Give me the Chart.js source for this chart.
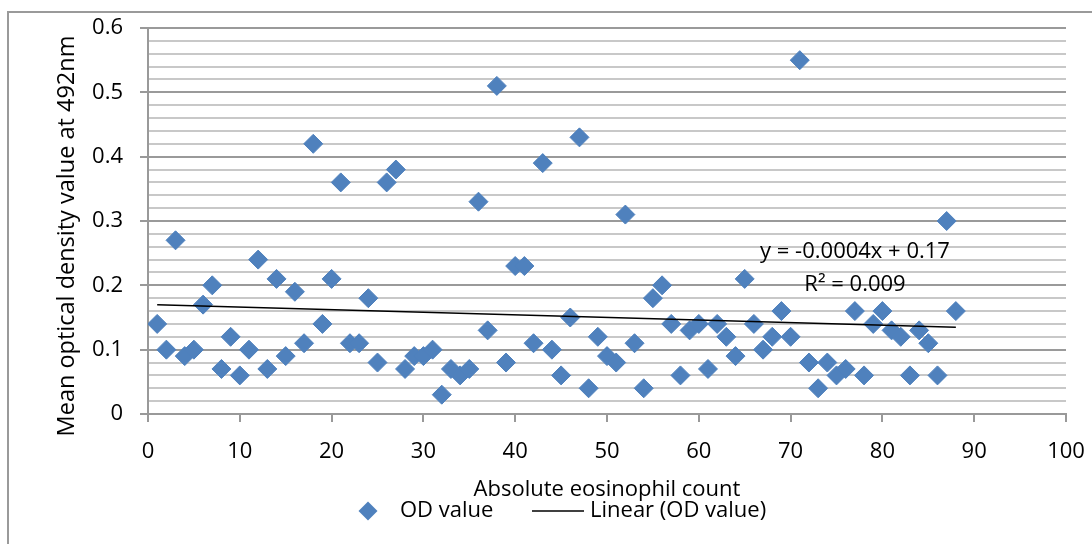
<!DOCTYPE html>
<html>
<head>
<meta charset="utf-8">
<script src="https://cdn.jsdelivr.net/npm/chart.js@4/dist/chart.umd.min.js"></script>
<style>
  html, body { margin: 0; padding: 0; background: #fff; overflow: hidden; }
  #marco { position: absolute; left: 7px; top: 11px; width: 1200px; height: 700px; border: 2px solid #9a9a9a; }
  #grafico { position: absolute; left: 0; top: 0; }
</style>
</head>
<body>
<div id="marco"></div>
<canvas id="grafico" width="1092" height="544"></canvas>
<script>
// Datos
const recuentoEosinofilos = [
  1, 2, 3, 4, 5, 6, 7, 8, 9, 10,
  11, 12, 13, 14, 15, 16, 17, 18, 19, 20,
  21, 22, 23, 24, 25, 26, 27, 28, 29, 30,
  31, 32, 33, 34, 35, 36, 37, 38, 39, 40,
  41, 42, 43, 44, 45, 46, 47, 48, 49, 50,
  51, 52, 53, 54, 55, 56, 57, 58, 59, 60,
  61, 62, 63, 64, 65, 66, 67, 68, 69, 70,
  71, 72, 73, 74, 75, 76, 77, 78, 79, 80,
  81, 82, 83, 84, 85, 86, 87, 88
];
const valoresOD = [
  0.14, 0.10, 0.27, 0.09, 0.10, 0.17, 0.20, 0.07, 0.12, 0.06,
  0.10, 0.24, 0.07, 0.21, 0.09, 0.19, 0.11, 0.42, 0.14, 0.21,
  0.36, 0.11, 0.11, 0.18, 0.08, 0.36, 0.38, 0.07, 0.09, 0.09,
  0.10, 0.03, 0.07, 0.06, 0.07, 0.33, 0.13, 0.51, 0.08, 0.23,
  0.23, 0.11, 0.39, 0.10, 0.06, 0.15, 0.43, 0.04, 0.12, 0.09,
  0.08, 0.31, 0.11, 0.04, 0.18, 0.20, 0.14, 0.06, 0.13, 0.14,
  0.07, 0.14, 0.12, 0.09, 0.21, 0.14, 0.10, 0.12, 0.16, 0.12,
  0.55, 0.08, 0.04, 0.08, 0.06, 0.07, 0.16, 0.06, 0.14, 0.16,
  0.13, 0.12, 0.06, 0.13, 0.11, 0.06, 0.30, 0.16
];
const ticksX = ['0', '10', '20', '30', '40', '50', '60', '70', '80', '90', '100'];
const ticksY = ['0', '0.1', '0.2', '0.3', '0.4', '0.5', '0.6'];
const tituloX = 'Absolute eosinophil count';
const tituloY = 'Mean optical density value at 492nm';
const etiquetaTendencia = ['y = -0.0004x + 0.17', 'R² = 0.009'];
const nombresLeyenda = ['OD value', 'Linear (OD value)'];

const azul = '#4F81BD';
const fuente = { family: '"Open Sans"', size: 22 };

// Recta de mínimos cuadrados (línea de tendencia)
function regresionLineal(xs, ys) {
  const n = xs.length;
  const mx = xs.reduce((a, b) => a + b, 0) / n;
  const my = ys.reduce((a, b) => a + b, 0) / n;
  let sxy = 0, sxx = 0;
  xs.forEach((x, i) => { sxy += (x - mx) * (ys[i] - my); sxx += (x - mx) * (x - mx); });
  const pendiente = sxy / sxx;
  return { pendiente, ordenada: my - pendiente * mx };
}

const recta = regresionLineal(recuentoEosinofilos, valoresOD);
const xMin = Math.min(...recuentoEosinofilos);
const xMax = Math.max(...recuentoEosinofilos);
const puntosTendencia = [xMin, xMax].map(x => ({ x, y: recta.ordenada + recta.pendiente * x }));

// Título del eje Y, ecuación y leyenda
const textosExtra = {
  id: 'textosExtra',
  afterDraw(chart) {
    const ctx = chart.ctx;
    ctx.save();
    ctx.fillStyle = '#000';
    ctx.textBaseline = 'middle';
    ctx.textAlign = 'center';

    // título vertical
    ctx.save();
    ctx.translate(67, 236);
    ctx.rotate(-Math.PI / 2);
    ctx.font = '23.5px "Open Sans"';
    ctx.fillText(tituloY, 0, 0);
    ctx.restore();

    ctx.font = '22px "Open Sans"';
    ctx.fillText(etiquetaTendencia[0], 855, 252);
    ctx.fillText(etiquetaTendencia[1], 855, 285);

    // leyenda
    const yl = 511;
    ctx.fillStyle = azul;
    ctx.beginPath();
    ctx.moveTo(368, yl - 9.5);
    ctx.lineTo(377.5, yl);
    ctx.lineTo(368, yl + 9.5);
    ctx.lineTo(358.5, yl);
    ctx.closePath();
    ctx.fill();
    ctx.strokeStyle = '#000';
    ctx.lineWidth = 1.5;
    ctx.beginPath();
    ctx.moveTo(532, yl);
    ctx.lineTo(584, yl);
    ctx.stroke();
    ctx.fillStyle = '#000';
    ctx.textAlign = 'left';
    ctx.fillText(nombresLeyenda[0], 400, yl);
    ctx.fillText(nombresLeyenda[1], 590, yl);
    ctx.restore();
  }
};

new Chart(document.getElementById('grafico'), {
  type: 'scatter',
  data: {
    datasets: [
      {
        label: nombresLeyenda[1],
        data: puntosTendencia,
        showLine: true,
        borderColor: '#000',
        borderWidth: 1.5,
        pointRadius: 0,
        order: 0
      },
      {
        label: nombresLeyenda[0],
        data: recuentoEosinofilos.map((x, i) => ({ x, y: valoresOD[i] })),
        pointStyle: 'rectRot',
        pointRadius: 9.5,
        backgroundColor: azul,
        borderColor: azul,
        borderWidth: 1,
        order: 1
      }
    ]
  },
  options: {
    responsive: false,
    animation: false,
    layout: { padding: { left: 0, top: 28, right: 26, bottom: 0 } },
    plugins: { legend: { display: false }, tooltip: { enabled: false } },
    scales: {
      x: {
        type: 'linear',
        min: 0,
        max: 100,
        // alto fijo y sin márgenes extra por las etiquetas
        afterFit: s => { s.height = 130; s.paddingLeft = 0; s.paddingRight = 0; },
        ticks: {
          stepSize: 10,
          color: '#000',
          font: fuente,
          padding: 17,
          maxRotation: 0,
          callback: (v, i) => ticksX[i]
        },
        grid: { drawOnChartArea: false, tickLength: 8, tickColor: '#999', lineWidth: 2 },
        border: { color: '#999', width: 2 },
        title: {
          display: true,
          text: tituloX,
          color: '#000',
          font: fuente,
          padding: { top: 0, bottom: 41 }
        }
      },
      y: {
        min: 0,
        max: 0.6,
        afterFit: s => { s.width = 148; s.paddingTop = 0; s.paddingBottom = 0; },
        ticks: {
          stepSize: 0.02,
          autoSkip: false,
          color: '#000',
          font: fuente,
          padding: 17,
          callback: (v, i) => (i % 5 === 0 ? ticksY[i / 5] : '')
        },
        grid: {
          tickLength: 8,
          lineWidth: 2,
          color: c => (c.index % 5 === 0 ? '#9a9a9a' : '#c8c8c8'),
          tickColor: c => (c.index % 5 === 0 ? '#999' : 'rgba(0,0,0,0)')
        },
        border: { color: '#999', width: 2 }
      }
    }
  },
  plugins: [textosExtra]
});
</script>
</body>
</html>
